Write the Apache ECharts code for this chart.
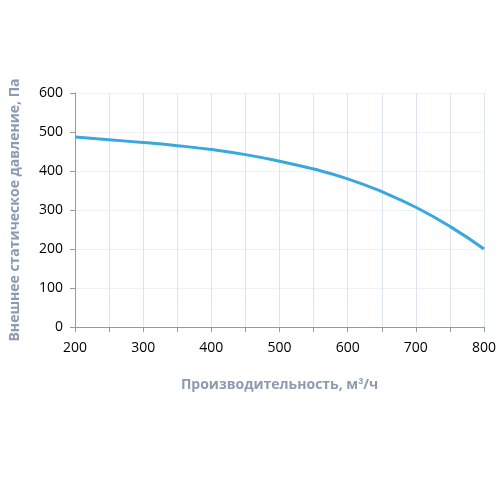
<!DOCTYPE html>
<html>
<head>
<meta charset="utf-8">
<script src="https://cdn.jsdelivr.net/npm/echarts@6/dist/echarts.min.js"></script>
<style>html,body{margin:0;padding:0;background:#fff}#chart{width:500px;height:500px}</style>
</head>
<body>
<div id="chart"></div>
<script>
// производительность, м3/ч
const flow = [200, 250, 300, 350, 400, 450, 500, 550, 600, 650, 700, 750, 800];
// внешнее статическое давление, Па
const pressure = [487, 480, 473, 465, 455, 442, 425, 405, 380, 347, 307, 258, 200];

const chart = echarts.init(document.getElementById('chart'));
chart.setOption({
    animation: false,
    grid: { left: 75, right: 16, top: 93, bottom: 173 },
    xAxis: {
        type: 'value', min: 200, max: 800, interval: 50,
        name: '{n|Производительность, м}{s|3}{n|/ч}',
        nameLocation: 'middle', nameGap: 50,
        nameTextStyle: {
            rich: {
                n: { color: '#8c9bb0', fontSize: 14, fontWeight: 'bold', fontFamily: 'Open Sans' },
                s: { color: '#8c9bb0', fontSize: 9, fontWeight: 'bold', verticalAlign: 'top', padding: [0, 0, 8, 0] }
            }
        },
        axisLine: { lineStyle: { color: '#9a9a9a' } },
        axisTick: { lineStyle: { color: '#9a9a9a' } },
        axisLabel: {
            color: '#000', fontSize: 14, fontFamily: 'Open Sans', margin: 14,
            formatter: v => (v % 100 === 0 ? String(v) : '')
        },
        splitLine: { lineStyle: { color: '#dde6ef' } }
    },
    yAxis: {
        type: 'value', min: 0, max: 600, interval: 100,
        name: 'Внешнее статическое давление, Па',
        nameLocation: 'middle', nameGap: 53,
        nameTextStyle: { color: '#8c9bb0', fontSize: 14, fontWeight: 'bold', fontFamily: 'Open Sans' },
        axisLine: { show: true, lineStyle: { color: '#9a9a9a' } },
        axisTick: { show: true, lineStyle: { color: '#9a9a9a' } },
        axisLabel: { color: '#000', fontSize: 14, fontFamily: 'Open Sans', margin: 12 },
        splitLine: { lineStyle: { color: '#eef2f6' } }
    },
    series: [{
        type: 'line', smooth: true, showSymbol: false,
        data: flow.map((x, i) => [x, pressure[i]]),
        lineStyle: { color: '#3aa8dc', width: 3 }
    }]
});
</script>
</body>
</html>
